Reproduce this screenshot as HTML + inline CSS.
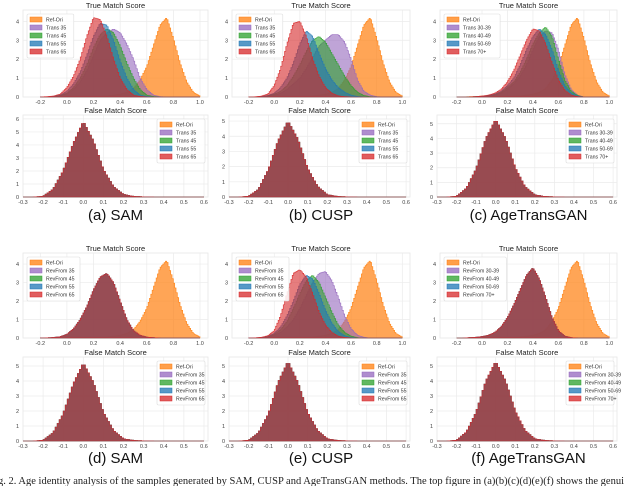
<!DOCTYPE html>
<html><head><meta charset="utf-8"><style>
html,body{margin:0;padding:0;background:#fff;}
svg{display:block;font-family:"Liberation Sans",sans-serif;}
</style></head><body>
<svg id="fig" width="640" height="486" viewBox="0 0 640 486"></svg>
<script>
const trueXs=[-0.2,-0.15,-0.1,-0.05,0,0.05,0.1,0.15,0.2,0.25,0.3,0.35,0.4,0.45,0.5,0.55,0.6,0.65,0.7,0.75,0.8,0.85,0.9,0.95,1.0];
const falseXs=[-0.3,-0.25,-0.2,-0.15,-0.1,-0.05,0,0.05,0.1,0.15,0.2,0.25,0.3,0.35,0.4,0.45,0.5,0.55,0.6];
const refOri=[0,0,0.02,0.03,0.05,0.05,0.05,0.05,0.05,0.05,0.06,0.1,0.15,0.25,0.45,0.9,1.6,2.7,3.8,4.2,3.1,1.8,0.8,0.25,0.05];
const samT35=[0,0,0.02,0.05,0.15,0.4,0.8,1.4,2.2,3.0,3.4,3.6,3.4,2.8,2.0,1.0,0.4,0.1,0.02];
const samT45=[0,0,0.03,0.08,0.2,0.5,1.0,1.7,2.6,3.3,3.6,3.4,2.7,1.8,1.0,0.4,0.1,0.03];
const samT55=[0,0.01,0.04,0.1,0.3,0.7,1.3,2.2,3.2,3.9,3.8,3.0,1.9,1.0,0.4,0.1,0.03];
const samT65=[0,0.02,0.05,0.15,0.5,1.1,2.0,3.2,4.2,4.1,3.2,2.0,1.0,0.4,0.1,0.03];
const cuspT35=[0,0,0.02,0.05,0.1,0.2,0.4,0.7,1.0,1.5,2.1,2.7,3.0,3.3,3.3,2.9,2.0,0.9,0.3,0.1,0.02];
const cuspT45=[0,0,0.03,0.06,0.15,0.3,0.6,1.1,1.7,2.4,3.0,3.2,2.9,2.3,1.7,1.1,0.6,0.25,0.08,0.02];
const cuspT55=[0,0,0.03,0.08,0.2,0.5,1.0,1.8,2.8,3.5,3.2,2.3,1.5,0.9,0.5,0.25,0.1,0.03];
const cuspT65=[0,0.01,0.05,0.15,0.6,1.5,2.8,3.9,4.0,3.2,2.0,1.1,0.5,0.2,0.06,0.02];
const ageP=[0,0,0,0.02,0.03,0.05,0.1,0.2,0.4,0.7,1.1,1.7,2.5,3.2,3.5,3.4,2.5,1.2,0.4,0.1];
const ageG=[0,0,0,0.02,0.04,0.07,0.12,0.25,0.5,0.8,1.3,2.0,2.8,3.4,3.7,3.2,2.0,0.9,0.3,0.08];
const ageB=[0,0,0,0.02,0.04,0.08,0.15,0.3,0.6,1.0,1.7,2.5,3.2,3.6,3.3,2.5,1.4,0.6,0.2,0.05];
const ageR=[0,0,0,0.02,0.05,0.1,0.2,0.4,0.8,1.4,2.2,3.0,3.6,3.5,2.8,1.8,0.9,0.35,0.1,0.02];
const samRev=[0,0.01,0.03,0.07,0.2,0.5,1.0,1.7,2.6,3.3,3.5,3.0,2.0,1.0,0.4,0.15,0.05,0.02];
const cuspRevR=[0,0.01,0.04,0.12,0.4,1.2,2.4,3.5,3.7,3.3,2.4,1.4,0.7,0.3,0.1,0.03];
const cuspRevB=[0,0.01,0.03,0.08,0.25,0.6,1.2,2.0,2.9,3.4,3.2,2.4,1.5,0.8,0.35,0.12,0.03];
const cuspRevG=[0,0,0.03,0.07,0.2,0.45,0.9,1.6,2.4,3.1,3.4,3.0,2.2,1.4,0.7,0.3,0.1,0.02];
const cuspRevP=[0,0,0.02,0.05,0.15,0.3,0.6,1.0,1.6,2.3,3.0,3.5,3.6,3.1,2.2,1.2,0.5,0.15,0.04];
const ageRev=[0,0,0.02,0.04,0.08,0.15,0.3,0.6,1.1,1.8,2.6,3.4,3.8,3.2,2.2,1.1,0.4,0.1,0.02];
const falseA=[0,0,0.05,0.6,2.0,4.1,5.8,4.3,2.1,0.8,0.2,0.05,0.01];
const falseB=[0,0,0.05,0.5,1.8,3.7,5.0,3.8,1.9,0.7,0.15,0.04,0.01];
const falseC=[0,0,0.05,0.6,1.9,4.0,5.3,4.0,2.0,0.7,0.15,0.04,0.01];
const falseD=[0,0,0.05,0.55,1.8,3.8,5.2,3.9,1.9,0.7,0.15,0.04,0.01];
const falseE=[0,0,0.05,0.55,1.8,3.9,5.3,3.9,1.9,0.7,0.15,0.04,0.01];
const falseF=[0,0,0.05,0.6,1.9,4.0,5.3,4.0,2.0,0.7,0.15,0.04,0.01];
const trueTicks=[-0.2,0.0,0.2,0.4,0.6,0.8,1.0];
const falseTicks=[-0.3,-0.2,-0.1,0.0,0.1,0.2,0.3,0.4,0.5,0.6];
const captions=["(a) SAM","(b) CUSP","(c) AgeTransGAN","(d) SAM","(e) CUSP","(f) AgeTransGAN"];

const NS="http://www.w3.org/2000/svg";
const svg=document.getElementById('fig');
const COL={o:'#ff7f0e',p:'#9467bd',g:'#2ca02c',b:'#1f77b4',r:'#d62728'};
function mk(tag,attrs,parent){const e=document.createElementNS(NS,tag);for(const k in attrs)e.setAttribute(k,attrs[k]);(parent||svg).appendChild(e);return e;}
function interp(xs,vals,x){
  if(x<=xs[0]||x>=xs[xs.length-1])return 0;
  const step=xs[1]-xs[0];const i=Math.floor((x-xs[0])/step);
  const a=vals[i]||0,b=vals[i+1]||0,t=(x-xs[i])/step;return a+(b-a)*t;
}
function panel(id,x0,y0,w,h,xmin,xmax,ymax,yTicks,xTicks,xs,series,labels,legendRight,title){
  const g=mk('g',{});
  
  
  const sx=v=>x0+(v-xmin)/(xmax-xmin)*w, sy=v=>y0+h-Math.min(v,ymax)/ymax*h;
  mk('rect',{x:x0,y:y0,width:w,height:h,fill:'#fff',stroke:'#e6e6e6','stroke-width':0.8},g);
  xTicks.forEach(t=>{const gl=mk('line',{x1:sx(t),x2:sx(t),y1:y0,y2:y0+h,stroke:'#ebebeb','stroke-width':0.7},g);
    
    const tl=mk('text',{x:sx(t),y:y0+h+7,'font-size':5.5,fill:'#444','text-anchor':'middle'},g);tl.textContent=t.toFixed(1);
    });
  yTicks.forEach(t=>{const gl=mk('line',{x1:x0,x2:x0+w,y1:sy(t),y2:sy(t),stroke:'#ebebeb','stroke-width':0.7},g);
    
    const tl=mk('text',{x:x0-4,y:sy(t)+2,'font-size':5.5,fill:'#444','text-anchor':'end'},g);tl.textContent=t;
    });
  series.forEach(s=>{
    const bw=0.01; const lo=xs[0], hi=xs[xs.length-1];
    let d='M'+sx(Math.max(xmin,lo))+','+sy(0);
    for(let x=lo;x<hi-1e-9;x+=bw){
      const v=interp(xs,s.vals,x+bw/2);
      d+=' L'+sx(Math.max(xmin,x))+','+sy(v)+' L'+sx(Math.min(xmax,x+bw))+','+sy(v);
    }
    d+=' L'+sx(Math.min(xmax,hi))+','+sy(0)+' Z';
    const p=mk('path',{d:d,fill:COL[s.c],'fill-opacity':s.c==='o'?0.7:0.6,stroke:COL[s.c],'stroke-width':0.6,'stroke-opacity':0.9},g);
    
    
  });
  const tt=mk('text',{x:x0+w/2,y:y0-2,'font-size':7.5,fill:'#222','text-anchor':'middle'},g);tt.textContent=title;
  
  const lw=legendRight?48:Math.max(42,labels.reduce((m,l)=>Math.max(m,l.length),0)*3.1+22), lh=labels.length*8+4;
  const lx=legendRight?x0+w-lw-3:x0+4, ly=y0+4;
  const lg=mk('g',{},g);
  
  mk('rect',{x:lx,y:ly,width:lw,height:lh,fill:'#fff','fill-opacity':0.85,stroke:'#ddd','stroke-width':0.6,rx:1.5},lg);
  const cs=['o','p','g','b','r'];
  labels.forEach((l,i)=>{
    const e=mk('g',{},lg);
    
    mk('rect',{x:lx+3,y:ly+3+i*8,width:12,height:5,fill:COL[cs[i]],'fill-opacity':0.75,stroke:COL[cs[i]],'stroke-width':0.5},e);
    const t=mk('text',{x:lx+19,y:ly+7.6+i*8,'font-size':5.2,fill:'#333'},e);t.textContent=l;
  });
}
const cols=[23,232,440], widths=[185,178,177];
const tl=[["Ref-Ori","Trans 35","Trans 45","Trans 55","Trans 65"],["Ref-Ori","Trans 35","Trans 45","Trans 55","Trans 65"],["Ref-Ori","Trans 30-39","Trans 40-49","Trans 50-69","Trans 70+"]];
const rl=[["Ref-Ori","RevFrom 35","RevFrom 45","RevFrom 55","RevFrom 65"],["Ref-Ori","RevFrom 35","RevFrom 45","RevFrom 55","RevFrom 65"],["Ref-Ori","RevFrom 30-39","RevFrom 40-49","RevFrom 50-69","RevFrom 70+"]];
const topSeries=[[samT35,samT45,samT55,samT65],[cuspT35,cuspT45,cuspT55,cuspT65],[ageP,ageG,ageB,ageR],
 [samRev,samRev,samRev,samRev],[cuspRevP,cuspRevG,cuspRevB,cuspRevR],[ageRev,ageRev,ageRev,ageRev]];
const falseSeries=[falseA,falseB,falseC,falseD,falseE,falseF];
const falseYmax=[6.3,5.4,5.6,5.6,5.6,5.6];
const rows=[{ut:10,uh:87,lt:115,lh:82,cap:220},{ut:253,uh:85,lt:357,lh:84,cap:463}];
for(let k=0;k<6;k++){
  const r=rows[Math.floor(k/3)], c=k%3, labs=(k<3?tl:rl)[c], ts=topSeries[k];
  const names=['purple','green','blue','red'], cc=['p','g','b','r'];
  const ser=[{vals:refOri,c:'o',n:'ref-ori'}].concat(ts.map((v,i)=>({vals:v,c:cc[i],n:names[i]})));
  panel('true-match-panel-'+k,cols[c],r.ut,widths[c],r.uh,-0.33,1.06,4.6,[0,1,2,3,4],trueTicks,trueXs,ser,labs,false,'True Match Score');
  const fv=falseSeries[k];
  const fser=['o','p','g','b','r'].map((cl,i)=>({vals:fv,c:cl,n:'false-'+i}));
  const fy=falseYmax[k]>6?[0,1,2,3,4,5,6]:[0,1,2,3,4,5];
  panel('false-match-panel-'+k,cols[c]+(c?-3:0),r.lt,widths[c]+(c?3:0),r.lh,-0.3,0.62,falseYmax[k],fy,falseTicks,falseXs,fser,labs,true,'False Match Score');
  const ct=mk('text',{x:cols[c]+widths[c]/2,y:r.cap,'font-size':15,fill:'#111','text-anchor':'middle'});
  ct.textContent=captions[k];
  
  
}
const fc=mk('text',{x:-2,y:484,'font-size':10.5,fill:'#222','font-family':'Liberation Serif, serif'});
fc.textContent='g. 2.  Age identity analysis of the samples generated by SAM, CUSP and AgeTransGAN methods. The top figure in (a)(b)(c)(d)(e)(f) shows the genui';


</script>
</body></html>
